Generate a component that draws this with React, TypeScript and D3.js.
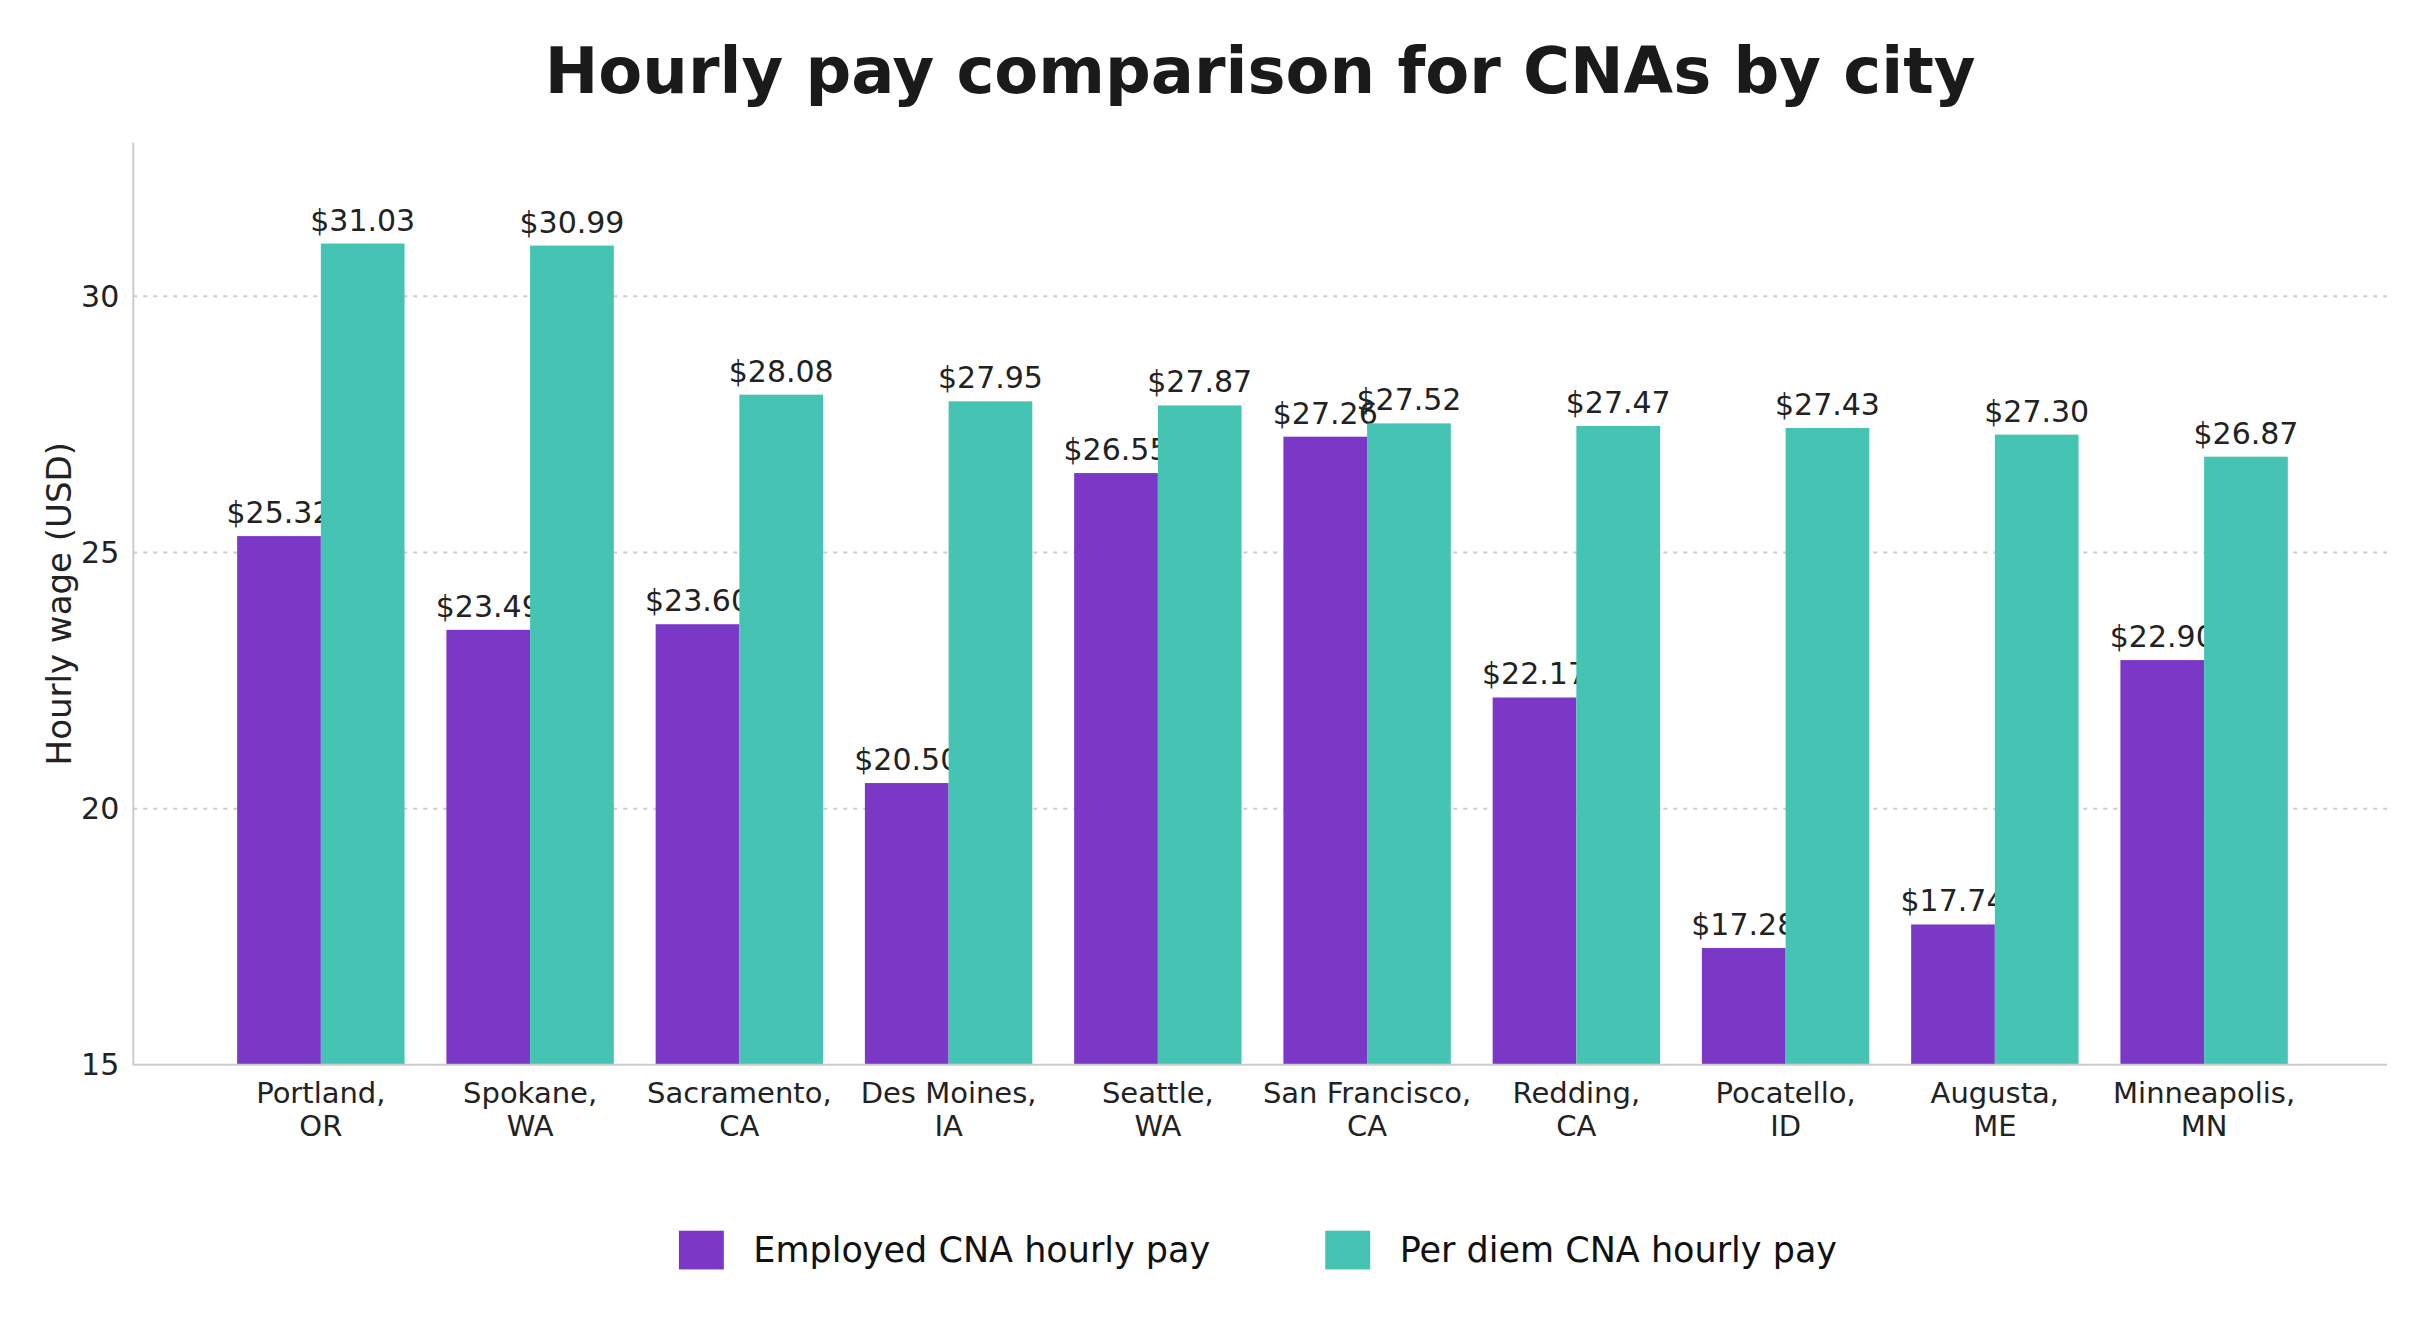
import * as d3 from 'd3';

const cities = [
  ['Portland,', 'OR'], ['Spokane,', 'WA'], ['Sacramento,', 'CA'], ['Des Moines,', 'IA'], ['Seattle,', 'WA'],
  ['San Francisco,', 'CA'], ['Redding,', 'CA'], ['Pocatello,', 'ID'], ['Augusta,', 'ME'], ['Minneapolis,', 'MN'],
];
const employed = [25.32, 23.49, 23.6, 20.5, 26.55, 27.26, 22.17, 17.28, 17.74, 22.9];
const perDiem = [31.03, 30.99, 28.08, 27.95, 27.87, 27.52, 27.47, 27.43, 27.3, 26.87];
const yTicks = [15, 20, 25, 30];
const seriesNames = ['Employed CNA hourly pay', 'Per diem CNA hourly pay'];
const colors = ['#7B38C6', '#45C4B4'];

const W = 2418;
const H = 1323;
const S = 1.55;
const left = 86 * S, right = 1540 * S, top = 92 * S, bottom = 687 * S;
const font = 'DejaVu Sans, sans-serif';

export default function App() {
  const keys = cities.map((c) => c.join(' '));
  const x = d3.scaleBand().domain(keys).range([139.5 * S, 1489.5 * S]).paddingInner(0.2).paddingOuter(0.1);
  const y = d3.scaleLinear().domain([15, 33]).range([bottom, top]);
  const bw = x.bandwidth() / 2;

  return (
    <svg width={W} height={H} style={{ display: 'block', marginTop: -8, marginLeft: -8 }} fontFamily={font}>
      <rect width={W} height={H} fill="#fff" />
      <text x={(left + right) / 2} y={60 * S} textAnchor="middle" fontSize={64} fontWeight="bold" fill="#1a1a1a">
        Hourly pay comparison for CNAs by city
      </text>
      {yTicks.slice(1).map((t) => (
        <line key={t} x1={left} x2={right} y1={y(t)} y2={y(t)} stroke="#ccc" strokeWidth={2} strokeDasharray="4,6" />
      ))}
      {yTicks.map((t) => (
        <text key={t} x={left - 14} y={y(t)} dy="0.35em" textAnchor="end" fontSize={30} fill="#222">{t}</text>
      ))}
      <text transform={`translate(${38 * S},${(top + bottom) / 2}) rotate(-90)`} textAnchor="middle" dy="0.35em" fontSize={34} fill="#222">
        Hourly wage (USD)
      </text>
      {keys.map((k, i) => {
        const x0 = x(k)!;
        return (
          <g key={k}>
            {[employed[i], perDiem[i]].map((v, j) => (
              <g key={j}>
                <rect x={x0 + j * bw} y={y(v)} width={bw} height={bottom - y(v)} fill={colors[j]} />
                <text x={x0 + j * bw + bw / 2} y={y(v) - 13} textAnchor="middle" fontSize={30} fill="#222">
                  ${v.toFixed(2)}
                </text>
              </g>
            ))}
            <text x={x0 + bw} y={bottom + 28} textAnchor="middle" fontSize={29} fill="#222">
              <tspan x={x0 + bw} dy="0.35em">{cities[i][0]}</tspan>
              <tspan x={x0 + bw} dy="1.15em">{cities[i][1]}</tspan>
            </text>
          </g>
        );
      })}
      <line x1={left} x2={left} y1={top} y2={bottom} stroke="#ccc" strokeWidth={2} />
      <line x1={left} x2={right} y1={bottom} y2={bottom} stroke="#ccc" strokeWidth={2} />
      {seriesNames.map((n, j) => {
        const lx = (j === 0 ? 438 : 855) * S;
        return (
          <g key={n}>
            <rect x={lx} y={794 * S} width={29 * S} height={25 * S} fill={colors[j]} />
            <text x={lx + 48 * S} y={806.5 * S} dy="0.35em" fontSize={35} fill="#111">{n}</text>
          </g>
        );
      })}
    </svg>
  );
}
